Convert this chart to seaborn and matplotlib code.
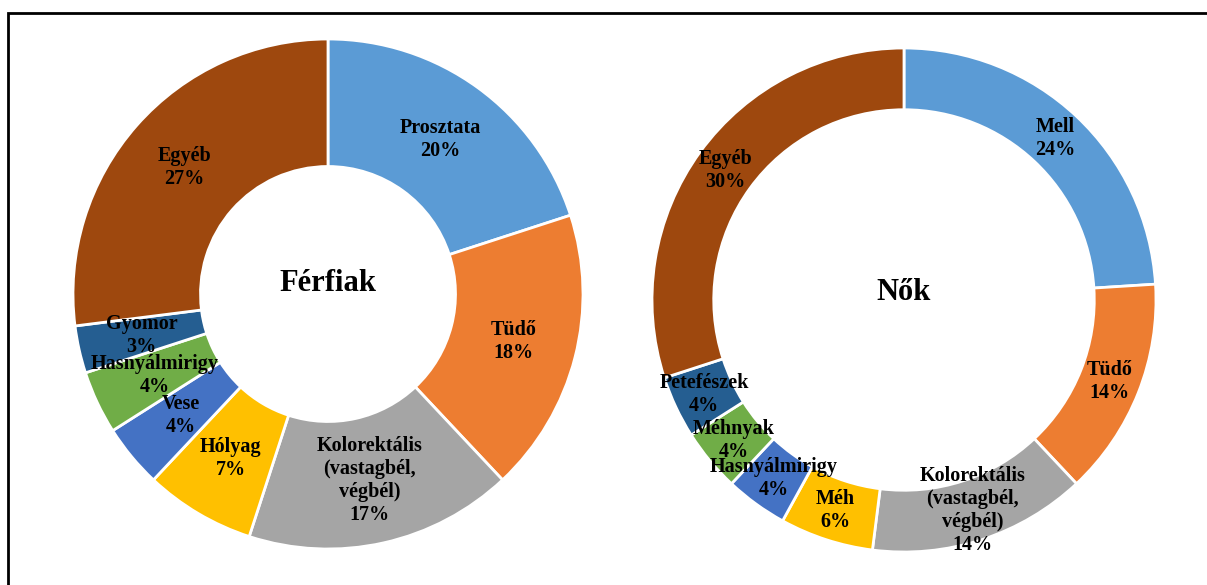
import matplotlib
matplotlib.use("Agg")
import matplotlib.pyplot as plt
import seaborn as sns
from matplotlib.patches import Rectangle

sns.set_theme(style="white")
plt.rcParams['font.family'] = ['Liberation Serif', 'DejaVu Serif']

# Data
men_labels = ["Prosztata", "Tüdő", "Kolorektális\n(vastagbél,\nvégbél)", "Hólyag",
              "Vese", "Hasnyálmirigy", "Gyomor", "Egyéb"]
men_values = [20, 18, 17, 7, 4, 4, 3, 27]
women_labels = ["Mell", "Tüdő", "Kolorektális\n(vastagbél,\nvégbél)", "Méh",
                "Hasnyálmirigy", "Méhnyak", "Petefészek", "Egyéb"]
women_values = [24, 14, 14, 6, 4, 4, 4, 30]
titles = ["Férfiak", "Nők"]

colors = ["#5B9BD5", "#ED7D31", "#A5A5A5", "#FFC000",
          "#4472C4", "#70AD47", "#255E91", "#9E480E"]
palette = sns.color_palette(colors)

W, H = 1207, 585
fig = plt.figure(figsize=(W / 100, H / 100), dpi=100)
fig.patch.set_facecolor("white")


def donut(rect, labels, values, title, width, title_dy):
    ax = fig.add_axes(rect)
    total = sum(values)
    lab_iter = iter(labels)
    ax.pie(values, colors=palette, startangle=90, counterclock=False,
           radius=1.0,
           wedgeprops=dict(width=width, edgecolor="white", linewidth=2),
           autopct=lambda p: f"{next(lab_iter)}\n{round(p * total / 100):.0f}%",
           pctdistance=1 - width / 2,
           textprops=dict(fontsize=14.5, fontweight="bold", color="black",
                          linespacing=1.2))
    ax.text(0, title_dy, title, ha="center", va="center", fontsize=22,
            fontweight="bold", color="black")
    ax.set_xlim(-1, 1)
    ax.set_ylim(-1, 1)
    ax.set_aspect("equal")
    ax.axis("off")
    return ax


# Left donut: center (328, 294), radius 255 px
cx, cy, r = 328, 294, 255
donut([(cx - r) / W, (H - cy - r) / H, 2 * r / W, 2 * r / H],
      men_labels, men_values, titles[0], 0.50, 0.04)

# Right donut: center (904, 300), radius 252 px
cx, cy, r = 904, 300, 252
donut([(cx - r) / W, (H - cy - r) / H, 2 * r / W, 2 * r / H],
      women_labels, women_values, titles[1], 0.245, 0.03)

# Frame
fig.patches.append(Rectangle((8 / W, -0.05), 1.1, 1 - 13 / H + 0.05,
                             transform=fig.transFigure, fill=False,
                             edgecolor="black", linewidth=2, zorder=10))

fig.savefig("out.png", dpi=100)
